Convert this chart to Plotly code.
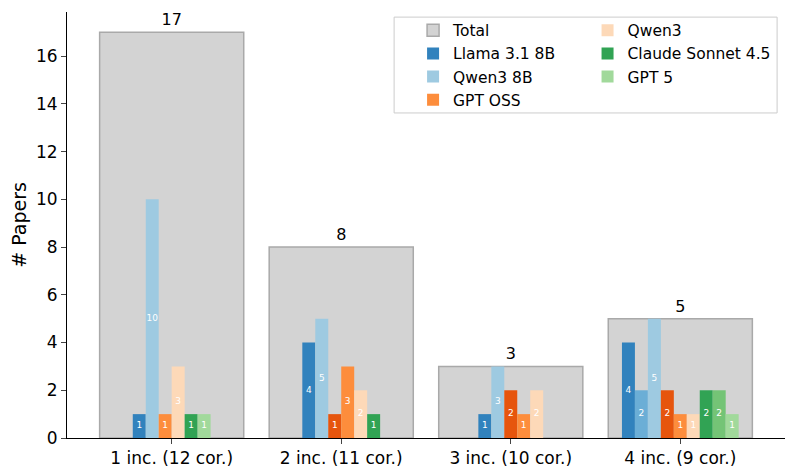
import plotly.graph_objects as go

categories = ["1 inc. (12 cor.)", "2 inc. (11 cor.)", "3 inc. (10 cor.)", "4 inc. (9 cor.)"]
total = [17, 8, 3, 5]

series_names = ["Llama 3.1 8B", "Llama (variant)", "Qwen3 8B", "GPT OSS (variant)", "GPT OSS",
                "Qwen3", "Claude Sonnet 4.5", "Claude (variant)", "GPT 5"]
series_values = [
    [1, 4, 1, 4],
    [0, 0, 0, 2],
    [10, 5, 3, 5],
    [0, 1, 2, 2],
    [1, 3, 1, 1],
    [3, 2, 2, 1],
    [1, 1, 0, 2],
    [0, 0, 0, 2],
    [1, 0, 0, 1],
]
series_colors = ["#3182bd", "#6baed6", "#9ecae1", "#e6550d", "#fd8d3c",
                 "#fdd9b8", "#31a354", "#74c476", "#a1d99b"]
# which legend column each series appears in (None = not in legend)
legend_col = [1, None, 1, None, 1, 2, 2, None, 2]

FONT = "DejaVu Sans"
bw = 0.0765

fig = go.Figure()
fig.add_trace(go.Bar(
    x=list(range(len(categories))), y=total, width=0.85, name="Total",
    marker=dict(color="#d3d3d3", line=dict(color="#a9a9a9", width=1.5)),
    text=[str(v) for v in total], textposition="outside",
    textfont=dict(size=16, color="black", family=FONT),
    legend="legend", legendgroup="Total", cliponaxis=False,
))

# positions: only non-zero bars per group, packed and centred
lab_x, lab_y, lab_t = [], [], []
for s, name in enumerate(series_names):
    xs, ys = [], []
    for g in range(len(categories)):
        idx = [k for k in range(len(series_names)) if series_values[k][g] > 0]
        if series_values[s][g] > 0:
            n = len(idx)
            pos = g + (idx.index(s) - (n - 1) / 2) * bw
            xs.append(pos)
            ys.append(series_values[s][g])
            lab_x.append(pos)
            lab_y.append(series_values[s][g] / 2)
            lab_t.append(str(series_values[s][g]))
    col = legend_col[s]
    fig.add_trace(go.Bar(
        x=xs, y=ys, width=bw, name=name,
        marker=dict(color=series_colors[s], line=dict(width=0)),
        showlegend=col is not None,
        legend="legend2" if col == 2 else "legend",
        legendgroup=name,
    ))

fig.add_trace(go.Scatter(
    x=lab_x, y=lab_y, text=lab_t, mode="text", showlegend=False, hoverinfo="skip",
    textfont=dict(size=9, color="white", family=FONT),
))

leg_common = dict(
    orientation="v", yanchor="top", xanchor="left",
    bgcolor="rgba(0,0,0,0)", borderwidth=0, tracegroupgap=0,
    font=dict(size=15.5, family=FONT),
)

fig.update_layout(
    width=785, height=467,
    barmode="overlay",
    plot_bgcolor="white", paper_bgcolor="white",
    margin=dict(l=57, r=8, t=4, b=37),
    font=dict(family=FONT, size=17, color="black"),
    showlegend=True,
    legend=dict(x=0.482, y=0.996, **leg_common),
    legend2=dict(x=0.725, y=0.996, **leg_common),
    shapes=[dict(type="rect", xref="paper", yref="paper", x0=0.4556, x1=0.989,
                 y0=0.763, y1=0.988, line=dict(color="#cccccc", width=1),
                 fillcolor="rgba(255,255,255,0.8)", layer="above")],
    xaxis=dict(
        range=[-0.6175, 3.6175], tickvals=list(range(len(categories))), ticktext=categories,
        showline=True, linecolor="black", linewidth=1, ticks="outside", ticklen=5,
        showgrid=False, zeroline=False, tickfont=dict(size=17),
    ),
    yaxis=dict(
        range=[0, 17.85], dtick=2, showline=True, linecolor="black", linewidth=1,
        ticks="outside", ticklen=5, showgrid=False, zeroline=False,
        tickfont=dict(size=17),
        title=dict(text="# Papers", font=dict(size=19), standoff=11),
    ),
)

fig.write_html("out.html")
